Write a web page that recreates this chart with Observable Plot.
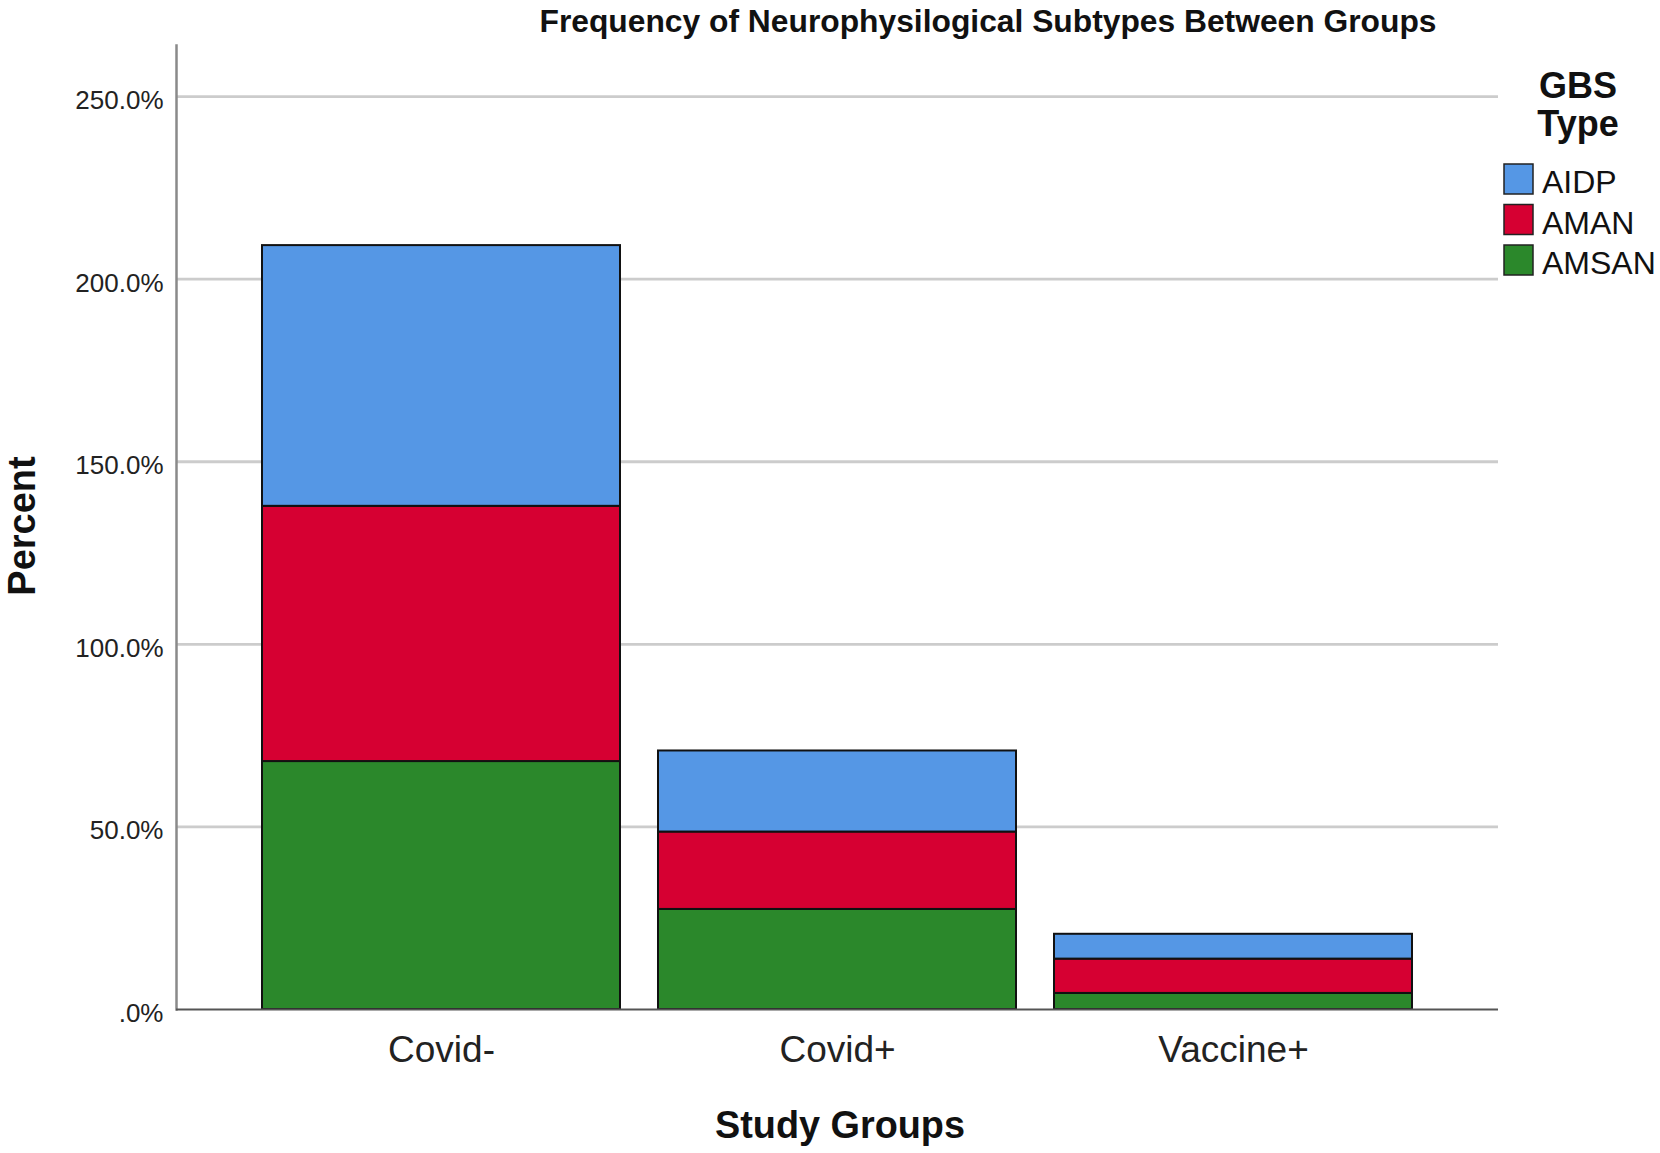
<!DOCTYPE html>
<html><head><meta charset="utf-8">
<script src="https://cdn.jsdelivr.net/npm/d3@7"></script>
<script src="https://cdn.jsdelivr.net/npm/@observablehq/plot@0.6"></script>
<style>
html,body{margin:0;padding:0;background:#fff;}
#wrap{position:relative;width:1660px;height:1153px;overflow:hidden;font-family:"Liberation Sans",Arial,sans-serif;}
#wrap svg{position:absolute;left:0;top:0;}
</style></head><body><div id="wrap"></div>
<script>
const groups = ["Covid-", "Covid+", "Vaccine+"];
const types = ["AIDP", "AMAN", "AMSAN"];
const stackOrder = ["AMSAN", "AMAN", "AIDP"];
const colors = ["#5597e5", "#d60032", "#2b882b"];
const aidp = [71.4, 22.2, 6.8];
const aman = [69.9, 21.2, 9.4];
const amsan = [67.9, 27.4, 4.4];
const yTicks = [0, 50, 100, 150, 200, 250];
const title = "Frequency of Neurophysilogical Subtypes Between Groups";
const xLabel = "Study Groups";
const yLabel = "Percent";
const legendTitle = ["GBS", "Type"];

const series = {AIDP: aidp, AMAN: aman, AMSAN: amsan};
const rows = [];
groups.forEach((g, i) => stackOrder.forEach(t => rows.push({group: g, type: t, value: series[t][i]})));

const plot = Plot.plot({
  width: 1660, height: 1153,
  marginLeft: 176, marginRight: 162, marginTop: 45, marginBottom: 144,
  style: {fontFamily: "'Liberation Sans', Arial, sans-serif", background: "white", color: "#222"},
  x: {domain: groups, paddingInner: 0.096, paddingOuter: 0.216, label: null},
  y: {domain: [0, 264], label: null},
  color: {domain: types, range: colors},
  marks: [
    Plot.gridY(yTicks.slice(1), {stroke: "#cccccc", strokeWidth: 2.8, strokeOpacity: 1}),
    Plot.frame({anchor: "left", stroke: "#8a8a8a", strokeWidth: 2.5}),
    Plot.barY(rows, {x: "group", y: "value", fill: "type", order: stackOrder, stroke: "#111", strokeWidth: 2}),
    Plot.ruleY([0], {stroke: "#555", strokeWidth: 2}),
    Plot.axisY({ticks: yTicks, tickSize: 0, tickPadding: 13, fontSize: 26, dy: 4,
      tickFormat: d => d === 0 ? ".0%" : d.toFixed(1) + "%", label: null}),
    Plot.axisX({tickSize: 0, tickPadding: 26, fontSize: 37, label: null})
  ]
});
const wrap = document.getElementById("wrap");
wrap.appendChild(plot);

// overlay texts and legend
const color = plot.scale("color");
const ov = d3.select(wrap).append("svg").attr("width", 1660).attr("height", 1153)
  .style("font-family", "'Liberation Sans', Arial, sans-serif").style("pointer-events", "none");
ov.append("text").attr("x", 988).attr("y", 32).attr("text-anchor", "middle")
  .attr("font-size", 32).attr("font-weight", "bold").attr("fill", "#111")
  .attr("textLength", 897).attr("lengthAdjust", "spacingAndGlyphs").text(title);
ov.append("text").attr("transform", "translate(35,526) rotate(-90)").attr("text-anchor", "middle")
  .attr("font-size", 38).attr("font-weight", "bold").attr("fill", "#111").text(yLabel);
ov.append("text").attr("x", 840).attr("y", 1138).attr("text-anchor", "middle")
  .attr("font-size", 38).attr("font-weight", "bold").attr("fill", "#111")
  .attr("textLength", 250).attr("lengthAdjust", "spacingAndGlyphs").text(xLabel);
legendTitle.forEach((t, i) => {
  ov.append("text").attr("x", 1578).attr("y", 98 + i * 38).attr("text-anchor", "middle")
    .attr("font-size", 36).attr("font-weight", "bold").attr("fill", "#111").text(t);
});
types.forEach((t, i) => {
  const y0 = 164 + i * 40.5;
  ov.append("rect").attr("x", 1504).attr("y", y0).attr("width", 29).attr("height", 30)
    .attr("fill", color.apply(t)).attr("stroke", "#222").attr("stroke-width", 1.5);
  ov.append("text").attr("x", 1542).attr("y", y0 + 29).attr("font-size", 32).attr("fill", "#111").text(t);
});
</script></body></html>
